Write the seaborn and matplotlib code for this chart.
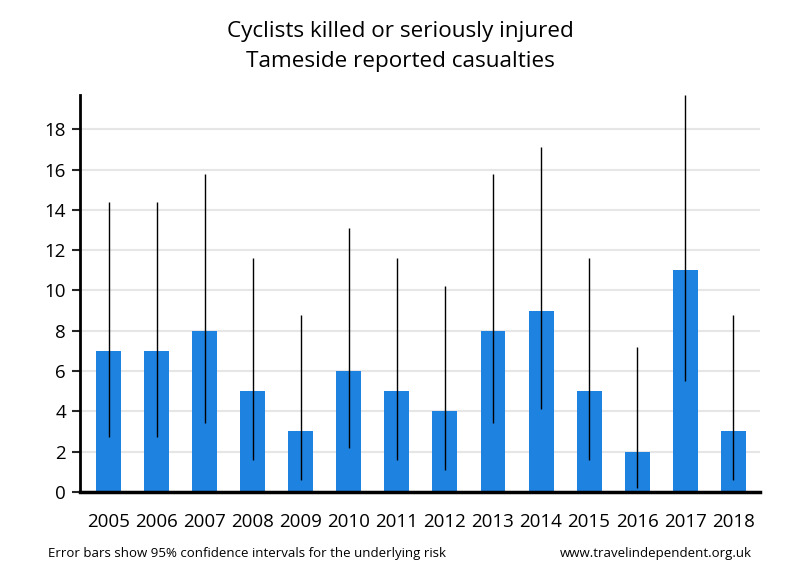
import numpy as np
import pandas as pd
import matplotlib
matplotlib.use("Agg")
import matplotlib.pyplot as plt
import seaborn as sns

# Tameside cyclist KSI casualties
years = ["2005", "2006", "2007", "2008", "2009", "2010", "2011",
         "2012", "2013", "2014", "2015", "2016", "2017", "2018"]
casualties = [7, 7, 8, 5, 3, 6, 5, 4, 8, 9, 5, 2, 11, 3]
ci_low = [2.7, 2.7, 3.4, 1.6, 0.6, 2.2, 1.6, 1.1, 3.4, 4.1, 1.6, 0.2, 5.5, 0.6]
ci_high = [14.4, 14.4, 15.8, 11.6, 8.8, 13.1, 11.6, 10.2, 15.8, 17.1, 11.6, 7.2, 19.7, 8.8]
y_ticks = [0, 2, 4, 6, 8, 10, 12, 14, 16, 18]

df = pd.DataFrame({"year": years, "casualties": casualties,
                   "low": ci_low, "high": ci_high})

sns.set_style("white")
plt.rcParams['font.family'] = ['Open Sans', 'DejaVu Sans']

fig = plt.figure(figsize=(8, 5.8), dpi=100)
ax = fig.add_axes([0.1, 0.152, 0.85, 0.684])

sns.barplot(data=df, x="year", y="casualties", color="#1e82e0",
            saturation=1, width=0.52, linewidth=0, ax=ax, zorder=2)

# 95% confidence intervals drawn as thin lines
ax.vlines(np.arange(len(df)), df["low"], df["high"], color="black",
          linewidth=1, zorder=3)

ax.set_ylim(0, 19.7)
ax.set_xlim(-0.6, 13.56)
ax.set_yticks(y_ticks)
ax.yaxis.grid(True, color="#e6e6e6", linewidth=1.5, zorder=0)
ax.set_axisbelow(True)
ax.set_xlabel("")
ax.set_ylabel("")

for side in ["top", "right"]:
    ax.spines[side].set_visible(False)
ax.spines["left"].set_linewidth(2)
ax.spines["bottom"].set_linewidth(2.5)
ax.spines["left"].set_color("black")
ax.spines["bottom"].set_color("black")

ax.tick_params(axis="y", left=True, length=6, width=1.5, labelsize=13.5,
               pad=4, labelcolor="black")
ax.tick_params(axis="x", bottom=False, labelsize=13.5, pad=12,
               labelcolor="black")

fig.text(0.5, 0.946, "Cyclists killed or seriously injured",
         ha="center", va="center", fontsize=16.2, color="black")
fig.text(0.5, 0.894, "Tameside reported casualties",
         ha="center", va="center", fontsize=16.2, color="black")

fig.text(0.06, 0.046, "Error bars show 95% confidence intervals for the underlying risk",
         ha="left", va="center", fontsize=9.5, color="black")
fig.text(0.94, 0.046, "www.travelindependent.org.uk",
         ha="right", va="center", fontsize=9.5, color="black")

fig.savefig("out.png", dpi=100)
